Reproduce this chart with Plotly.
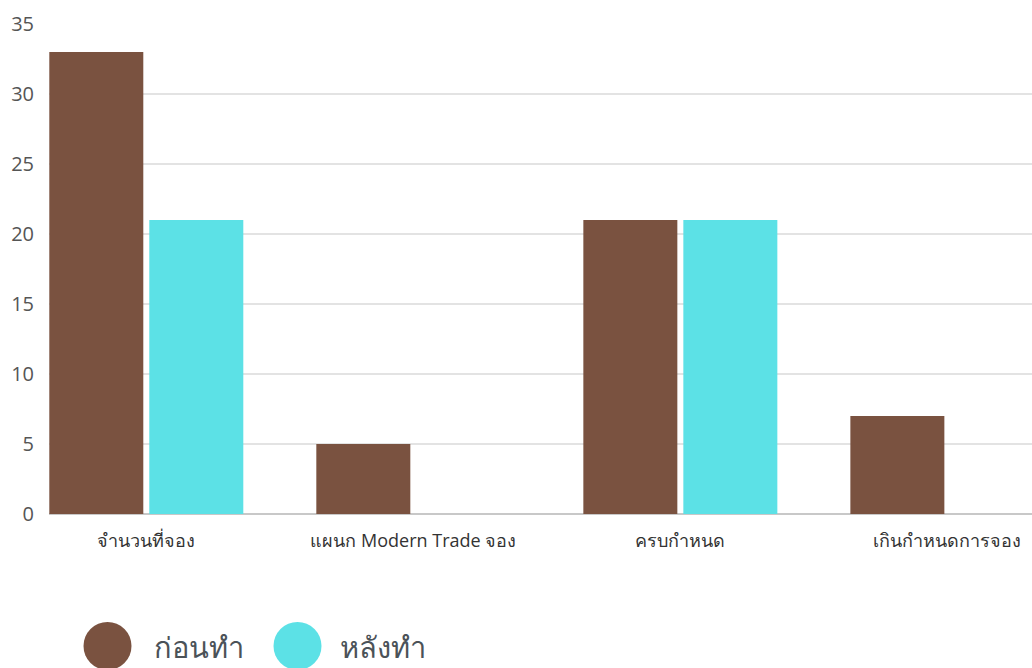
import plotly.graph_objects as go

categories = ["จำนวนที่จอง", "แผนก Modern Trade จอง", "ครบกำหนด", "เกินกำหนดการจอง"]
series_names = ["ก่อนทำ", "หลังทำ"]
before_values = [33, 5, 21, 7]
after_values = [21, 0, 21, 0]
colors = ["#7A5240", "#5CE1E6"]
y_ticks = [0, 5, 10, 15, 20, 25, 30, 35]

FONT = "Open Sans, Noto Sans, sans-serif"

fig = go.Figure()
for name, vals, col in zip(series_names, [before_values, after_values], colors):
    fig.add_trace(go.Bar(x=categories, y=vals, name=name, marker=dict(color=col, line=dict(width=0)),
                         showlegend=False))

W, H = 1032, 668
ml, mr, mt, mb = 49, 0, 24, 154
pw, ph = W - ml - mr, H - mt - mb

# custom legend (large circles)
legend_items = [(series_names[0], colors[0], 107.5, 151.7), (series_names[1], colors[1], 297.5, 338.0)]
cy_px = 646
for name, col, cx_px, tx_px in legend_items:
    px = (cx_px - ml) / pw
    py = (H - mb - cy_px) / ph
    fig.add_shape(type="circle", xref="paper", yref="paper", xsizemode="pixel", ysizemode="pixel",
                  xanchor=px, yanchor=py, x0=-24, x1=24, y0=-24, y1=24,
                  fillcolor=col, line=dict(width=0))
    fig.add_annotation(xref="paper", yref="paper", x=(tx_px - ml) / pw, y=py, text=name,
                       showarrow=False, xanchor="left", yanchor="middle",
                       font=dict(size=29, color="#4B5258", family=FONT))

fig.update_layout(
    width=W, height=H,
    margin=dict(l=ml, r=mr, t=mt, b=mb, pad=0),
    barmode="group", bargap=0.251, bargroupgap=0.06,
    plot_bgcolor="white", paper_bgcolor="white",
    font=dict(family=FONT),
    showlegend=False,
    xaxis=dict(range=[-0.3644, 3.317], showgrid=False, showline=False, zeroline=False,
               ticks="", tickfont=dict(size=18, color="#333333"), ticklabelstandoff=14),
    yaxis=dict(range=[0, 35], tickvals=y_ticks, showgrid=True, gridcolor="#E3E3E3", gridwidth=1.5,
               zeroline=True, zerolinecolor="#C8C8C8", zerolinewidth=2, showline=False,
               ticks="", tickfont=dict(size=20, color="#555555"), ticklabelstandoff=14),
)

fig.write_html("out.html")
